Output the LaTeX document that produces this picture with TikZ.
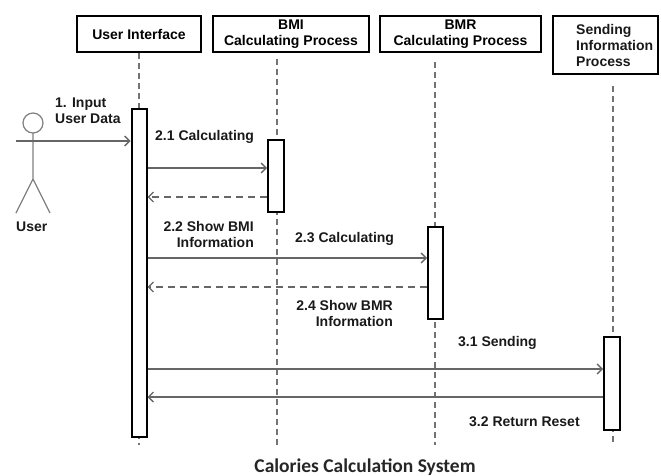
\documentclass[tikz,border=0pt]{standalone}
\usepackage{fontspec}
\setmainfont{Liberation Sans}
\newfontfamily\titlefont{Carlito}
\usetikzlibrary{arrows.meta}

\begin{document}
\begin{tikzpicture}[x=1pt,y=-1pt,
    font=\fontsize{14}{16}\selectfont\bfseries,
    head/.style={draw,line width=2pt,minimum height=36,align=center,inner sep=2pt},
    bar/.style={draw,line width=2pt,fill=white,minimum width=15},
    life/.style={draw=black!55,line width=1.2pt,dash pattern=on 6pt off 4pt},
    msg/.style={draw=black!60,line width=1.3pt,-{Straight Barb[length=5pt,width=10pt]}},
    reply/.style={msg,dash pattern=on 7pt off 5pt},
    actor/.style={draw=black!50,line width=1.2pt},
    lbl/.style={inner sep=1pt,text=black!90}]
            \useasboundingbox (0,0) rectangle (661,476);
            % lifeline heads
            \node[head,minimum width=124] at (139,34) (ui) {User Interface};
            \node[head,minimum width=156] at (291,34) (bmi) {BMI\\Calculating Process};
            \node[head,minimum width=161] at (460.5,34) (bmr) {BMR\\Calculating Process};
            \node[head,minimum width=105,minimum height=58] at (605.5,45) (send) {};
            \node[lbl,anchor=west,align=left] at ([xshift=23pt]send.west) (sendtxt) {Sending\\Information\\Process};
            % lifelines
            \coordinate (uiend) at (139,445);
            \coordinate (bmiend) at (277,445);
            \coordinate (bmrend) at (435,445);
            \coordinate (sendend) at (613,445);
            \draw[life] (ui.south -| uiend) -- (uiend);
            \draw[life] ([yshift=-6pt]bmi.south -| bmiend) -- (bmiend);
            \draw[life] ([yshift=-9pt]bmr.south -| bmrend) -- (bmrend);
            \draw[life] ([yshift=-11pt]send.south -| sendend) -- (sendend);
            % activations
            \node[bar,minimum height=328] at (139,273) (uibar) {};
            \node[bar,minimum width=16,minimum height=72] at (276,176) (bmibar) {};
            \node[bar,minimum height=92] at (435.5,273) (bmrbar) {};
            \node[bar,minimum width=16,minimum height=93] at (612,383.5) (sendbar) {};
            % actor
            \draw[actor] (33,123) circle[radius=10pt];
            \draw[actor] (33,133) -- (33,179) (16,213) -- (33,179) -- (50,213);
            \node[lbl,anchor=west] at (15,227) (user) {User};
            % messages
            \coordinate (uhand) at (16,141);
            \coordinate (m21) at (0,168);
            \coordinate (r21) at (0,197);
            \coordinate (m23) at (0,258);
            \coordinate (r23) at (0,287);
            \coordinate (m31) at (0,369);
            \coordinate (m32) at (0,397);
            \draw[msg] (uhand) -- (uibar.west |- uhand);
            \draw[msg] (uibar.east |- m21) -- (bmibar.west |- m21);
            \draw[reply] (bmibar.west |- r21) -- (uibar.east |- r21);
            \draw[msg] (uibar.east |- m23) -- (bmrbar.west |- m23);
            \draw[reply] (bmrbar.west |- r23) -- (uibar.east |- r23);
            \draw[msg] (uibar.east |- m31) -- (sendbar.west |- m31);
            \draw[msg] (sendbar.west |- m32) -- (uibar.east |- m32);
            % labels
            \node[lbl,anchor=west,align=left] at (54,111) (l1) {1. Input\\User Data};
            \node[lbl,anchor=west] at (154,137) (l21) {2.1 Calculating};
            \node[lbl,anchor=east,align=right] at (255,234) (l22) {2.2 Show BMI\\Information};
            \node[lbl,anchor=west] at (294,239) (l23) {2.3 Calculating};
            \node[lbl,anchor=east,align=right] at (394,313) (l24) {2.4 Show BMR\\Information};
            \node[lbl,anchor=west] at (457,343) (l31) {3.1 Sending};
            \node[lbl,anchor=west] at (468,422) (l32) {3.2 Return Reset};
            \node[lbl,text=black!85] at (365,467) (title) {\titlefont\fontsize{19.5}{22}\selectfont Calories Calculation System};
        \end{tikzpicture}
\end{document}
